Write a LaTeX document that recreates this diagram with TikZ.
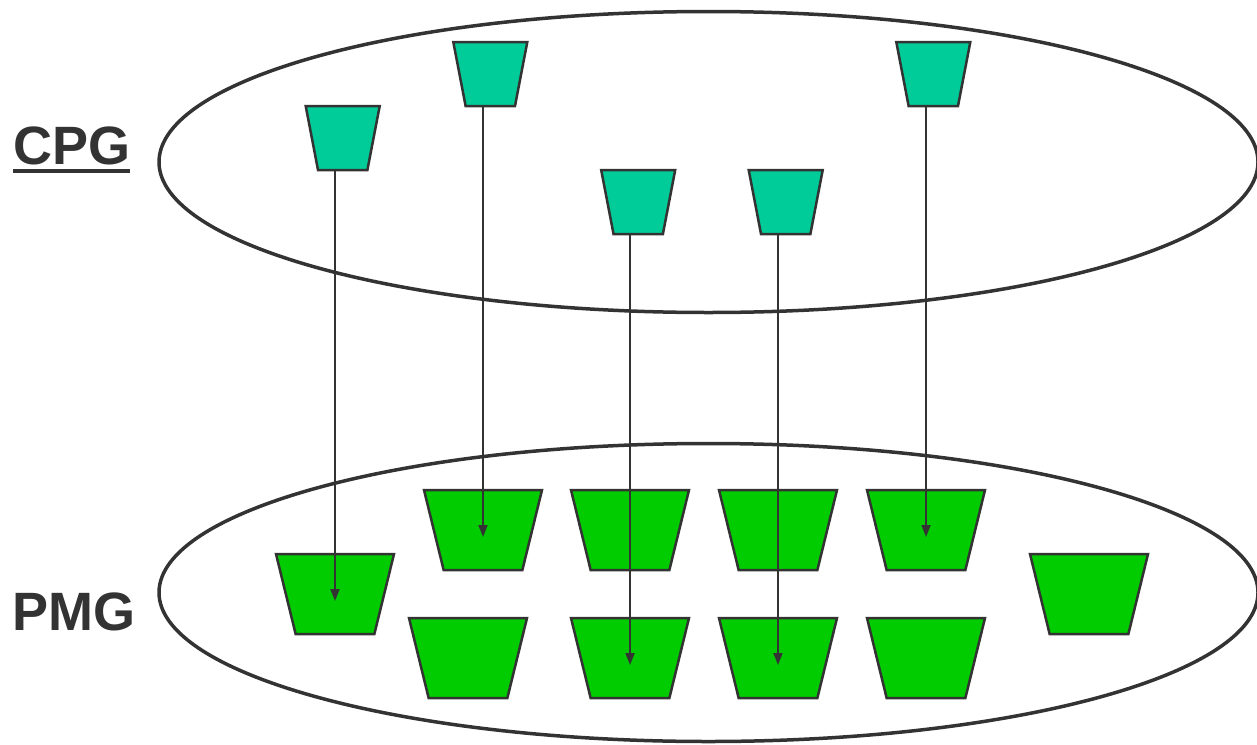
\documentclass[tikz,border=0pt]{standalone}
\usepackage{xcolor}
\usepackage{fontspec}
\setsansfont{Liberation Sans}
\usepackage{tikz}
\usetikzlibrary{arrows.meta,shapes.geometric}

\definecolor{inkgray}{HTML}{333333}
\definecolor{cpgteal}{HTML}{00CC99}
\definecolor{pmggreen}{HTML}{00CC00}
\newcommand{\ulbar}[1]{\setbox0\hbox{#1}\rlap{\rule[-8.5pt]{\wd0}{4pt}}\box0}

\begin{document}
\begin{tikzpicture}[x=1pt, y=-1pt,
    setring/.style={draw=inkgray, line width=3.5pt, ellipse, inner sep=0pt},
    cpgcell/.style={draw=inkgray, line width=2.5pt, fill=cpgteal, trapezium,
      shape border rotate=180, trapezium stretches=true,
      trapezium left angle=76, trapezium right angle=76,
      minimum width=74pt, minimum height=64pt, inner sep=1pt},
    pmgcell/.style={draw=inkgray, line width=2.5pt, fill=pmggreen, trapezium,
      shape border rotate=180, trapezium stretches=true,
      trapezium left angle=76, trapezium right angle=76,
      minimum width=118pt, minimum height=80pt, inner sep=1pt},
    link/.style={draw=inkgray, line width=1.8pt,
      -{Triangle[length=12pt, width=9pt]}},
    setlabel/.style={text=inkgray, inner sep=0pt, anchor=base west,
      font=\sffamily\bfseries\fontsize{54}{60}\selectfont}]
  \useasboundingbox (0,0) rectangle (1257,744);

  % the two sets
  \node[setring, minimum width=1099pt, minimum height=301pt]
    (cpgset) at (708.5, 162) {};
  \node[setring, minimum width=1099pt, minimum height=298pt]
    (pmgset) at (708.5, 592.5) {};

  \node[setlabel] (cpglabel) at (13, 164) {\ulbar{CPG}};
  \node[setlabel] (pmglabel) at (12, 630) {PMG};

  % CPG cells
  \node[cpgcell] (c1) at (342.7, 138) {};
  \node[cpgcell] (c2) at (490.3, 74) {};
  \node[cpgcell] (c3) at (638.2, 202) {};
  \node[cpgcell] (c4) at (785.7, 202) {};
  \node[cpgcell] (c5) at (933.3, 74) {};

  % PMG cells
  \node[pmgcell] (p1) at (335, 594) {};
  \node[pmgcell] (p2) at (483, 530) {};
  \node[pmgcell] (p3) at (630, 530) {};
  \node[pmgcell] (p4) at (778, 530) {};
  \node[pmgcell] (p5) at (926, 530) {};
  \node[pmgcell] (p6) at (1089, 594) {};
  \node[pmgcell] (p7) at (468, 658) {};
  \node[pmgcell] (p8) at (630, 658) {};
  \node[pmgcell] (p9) at (778, 658) {};
  \node[pmgcell] (p10) at (926, 658) {};

  % mapping
  \draw[link] (c1.south -| p1.center) -- ([yshift=-7pt]p1.center);
  \draw[link] (c2.south -| p2.center) -- ([yshift=-7pt]p2.center);
  \draw[link] (c3.south -| p8.center) -- ([yshift=-7pt]p8.center);
  \draw[link] (c4.south -| p9.center) -- ([yshift=-7pt]p9.center);
  \draw[link] (c5.south -| p5.center) -- ([yshift=-7pt]p5.center);
\end{tikzpicture}
\end{document}
